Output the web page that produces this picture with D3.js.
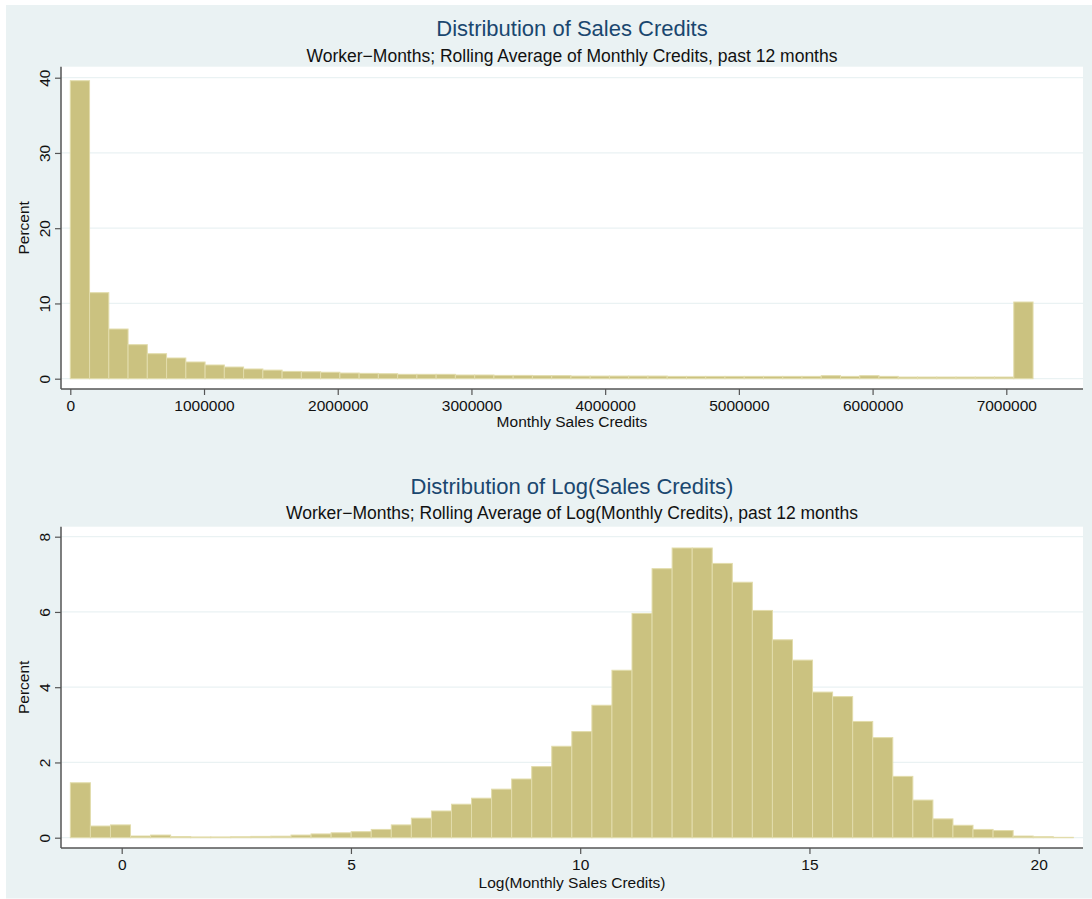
<!DOCTYPE html>
<html>
<head>
<meta charset="utf-8">
<script src="https://cdnjs.cloudflare.com/ajax/libs/d3/7.8.5/d3.min.js"></script>
<style>
  body { margin: 0; background: #fff; }
  svg { display: block; }
  text { font-family: "Liberation Sans", Arial, Helvetica, sans-serif; fill: #111; }
</style>
</head>
<body>
<svg id="chart" width="1092" height="899"></svg>
<script>
// top histogram: monthly sales credits, 50 bins from 0
const salesBinStart = 0;
const salesBinWidth = 144000;
const salesPercent = [
  39.6, 11.43, 6.6, 4.52, 3.32, 2.75, 2.22, 1.82, 1.55, 1.29,
  1.14, 0.97, 0.92, 0.86, 0.75, 0.71, 0.66, 0.58, 0.58, 0.58,
  0.49, 0.49, 0.44, 0.44, 0.40, 0.40, 0.35, 0.35, 0.35, 0.35,
  0.35, 0.31, 0.31, 0.31, 0.31, 0.31, 0.31, 0.31, 0.31, 0.40,
  0.31, 0.40, 0.31, 0.22, 0.22, 0.22, 0.22, 0.22, 0.22, 10.19
];
const salesTicksX = [0, 1000000, 2000000, 3000000, 4000000, 5000000, 6000000, 7000000];
const salesTicksY = [0, 10, 20, 30, 40];

// bottom histogram: log of monthly sales credits, 50 bins
const logBinStart = -1.12;
const logBinWidth = 0.4375;
const logPercent = [
  1.46, 0.31, 0.34, 0.045, 0.07, 0.03, 0.02, 0.02, 0.025, 0.035,
  0.04, 0.07, 0.10, 0.13, 0.16, 0.22, 0.34, 0.52, 0.71, 0.89,
  1.05, 1.29, 1.56, 1.89, 2.43, 2.82, 3.52, 4.45, 5.96, 7.15,
  7.70, 7.70, 7.29, 6.79, 6.04, 5.26, 4.72, 3.87, 3.75, 3.09,
  2.66, 1.63, 1.00, 0.50, 0.33, 0.22, 0.19, 0.044, 0.027, 0.01
];
const logTicksX = [0, 5, 10, 15, 20];
const logTicksY = [0, 2, 4, 6, 8];

const svg = d3.select('#chart');
const plotLeft = 61;
const plotRight = 1083;
const centerX = (plotLeft + plotRight) / 2;

svg.append('rect')
  .attr('x', 6).attr('y', 5)
  .attr('width', 1086).attr('height', 893.5)
  .attr('fill', '#eaf2f3');

function drawPanel(cfg) {
  let g = svg.append('g');

  g.append('text')
    .attr('x', centerX).attr('y', cfg.titleY)
    .attr('text-anchor', 'middle')
    .style('font-size', '22px')
    .style('fill', '#1a476f')
    .text(cfg.title);

  g.append('text')
    .attr('x', centerX).attr('y', cfg.subtitleY)
    .attr('text-anchor', 'middle')
    .style('font-size', '17.5px')
    .text(cfg.subtitle);

  g.append('rect')
    .attr('x', plotLeft).attr('y', cfg.top)
    .attr('width', plotRight - plotLeft).attr('height', cfg.bottom - cfg.top)
    .attr('fill', '#fff');

  let x = d3.scaleLinear().domain(cfg.xDomain).range(cfg.xRange);
  let y = d3.scaleLinear().domain(cfg.yDomain).range(cfg.yRange);

  g.selectAll('line.grid')
    .data(cfg.yTicks)
    .enter()
    .append('line')
    .attr('class', 'grid')
    .attr('x1', plotLeft).attr('x2', plotRight)
    .attr('y1', d => y(d)).attr('y2', d => y(d))
    .attr('stroke', '#eaf2f3')
    .attr('stroke-width', 1.2);

  let bins = cfg.values.map((v, i) => ({
    x0: cfg.binStart + i * cfg.binWidth,
    x1: cfg.binStart + (i + 1) * cfg.binWidth,
    value: v
  }));

  g.selectAll('rect.bar')
    .data(bins)
    .enter()
    .append('rect')
    .attr('class', 'bar')
    .attr('x', d => x(d.x0))
    .attr('width', d => x(d.x1) - x(d.x0))
    .attr('y', d => y(d.value))
    .attr('height', d => y(0) - y(d.value))
    .attr('fill', '#cbc280')
    .attr('stroke', '#e2dcab')
    .attr('stroke-width', 1);

  // x axis
  let xAxis = g.append('g')
    .attr('transform', 'translate(0,' + cfg.bottom + ')')
    .call(d3.axisBottom(x).tickValues(cfg.xTicks).tickFormat(d3.format('d'))
      .tickSize(6).tickPadding(4.5));
  xAxis.select('.domain').remove();
  xAxis.selectAll('.tick line').attr('stroke', '#555').attr('stroke-width', 1.2);
  xAxis.selectAll('.tick text')
    .style('font-size', '15.5px')
    .style('font-family', '"Liberation Sans", Arial, sans-serif')
    .style('fill', '#111');

  // y axis
  let yAxis = g.append('g')
    .attr('transform', 'translate(' + plotLeft + ',0)')
    .call(d3.axisLeft(y).tickValues(cfg.yTicks).tickSize(6));
  yAxis.select('.domain').remove();
  yAxis.selectAll('.tick line').attr('stroke', '#555').attr('stroke-width', 1.2);
  yAxis.selectAll('.tick text')
    .attr('transform', 'rotate(-90)')
    .attr('x', 0)
    .attr('y', -11.5)
    .attr('dy', 0)
    .attr('text-anchor', 'middle')
    .style('font-size', '15.5px')
    .style('font-family', '"Liberation Sans", Arial, sans-serif')
    .style('fill', '#111');

  // axis lines
  g.append('line')
    .attr('x1', plotLeft).attr('x2', plotRight)
    .attr('y1', cfg.bottom).attr('y2', cfg.bottom)
    .attr('stroke', '#555').attr('stroke-width', 1.5);
  g.append('line')
    .attr('x1', plotLeft).attr('x2', plotLeft)
    .attr('y1', cfg.top).attr('y2', cfg.bottom)
    .attr('stroke', '#555').attr('stroke-width', 1.5);

  g.append('text')
    .attr('x', centerX).attr('y', cfg.xTitleY)
    .attr('text-anchor', 'middle')
    .style('font-size', '15.5px')
    .text(cfg.xTitle);

  let my = (cfg.top + cfg.bottom) / 2;
  g.append('text')
    .attr('transform', 'translate(28.5,' + my + ') rotate(-90)')
    .attr('text-anchor', 'middle')
    .style('font-size', '15.5px')
    .text('Percent');
}

drawPanel({
  title: 'Distribution of Sales Credits',
  subtitle: 'Worker\u2212Months; Rolling Average of Monthly Credits, past 12 months',
  xTitle: 'Monthly Sales Credits',
  titleY: 35.5,
  subtitleY: 62,
  xTitleY: 427,
  top: 66.7,
  bottom: 389,
  xDomain: [0, 7000000],
  xRange: [70.3, 1006.3],
  yDomain: [0, 40],
  yRange: [378.7, 77.7],
  xTicks: salesTicksX,
  yTicks: salesTicksY,
  values: salesPercent,
  binStart: salesBinStart,
  binWidth: salesBinWidth
});

drawPanel({
  title: 'Distribution of Log(Sales Credits)',
  subtitle: 'Worker\u2212Months; Rolling Average of Log(Monthly Credits), past 12 months',
  xTitle: 'Log(Monthly Sales Credits)',
  titleY: 494.3,
  subtitleY: 519.3,
  xTitleY: 887.5,
  top: 526.7,
  bottom: 848,
  xDomain: [0, 20],
  xRange: [121.7, 1038.7],
  yDomain: [0, 8],
  yRange: [837.7, 536.7],
  xTicks: logTicksX,
  yTicks: logTicksY,
  values: logPercent,
  binStart: logBinStart,
  binWidth: logBinWidth
});
</script>
</body>
</html>
